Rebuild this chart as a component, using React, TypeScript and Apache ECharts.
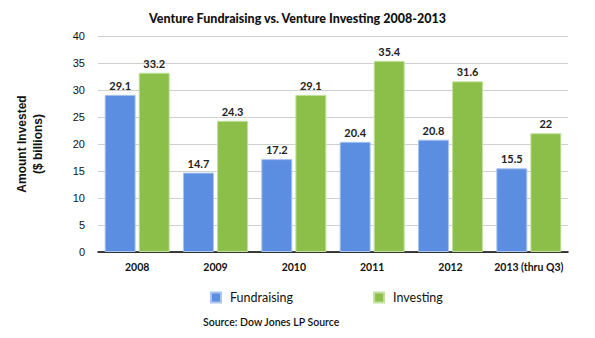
import React, { useEffect, useRef } from "react";
import * as echarts from "echarts";

const categories = ["2008", "2009", "2010", "2011", "2012", "2013 (thru Q3)"];
const fundraising = [29.1, 14.7, 17.2, 20.4, 20.8, 15.5];
const investing = [33.2, 24.3, 29.1, 35.4, 31.6, 22];
const yTicks = [0, 5, 10, 15, 20, 25, 30, 35, 40];

const FONT = "Lato";

export default function App() {
  const ref = useRef<HTMLDivElement>(null);
  useEffect(() => {
    if (!ref.current) return;
    const chart = echarts.init(ref.current, null, { renderer: "svg" });
    const label = {
      show: true,
      position: "top" as const,
      distance: 4,
      color: "#222",
      fontFamily: FONT,
      fontSize: 11,
      fontWeight: "bold" as const,
    };
    chart.setOption({
      animation: false,
      backgroundColor: "#fff",
      title: {
        text: "Venture Fundraising vs. Venture Investing 2008-2013",
        left: "center",
        top: 7,
        textStyle: { fontFamily: FONT, fontSize: 12.5, fontWeight: 900, color: "#111" },
      },
      grid: { left: 98, right: 27, top: 36, bottom: 86 },
      legend: {
        top: 286,
        left: 205,
        itemWidth: 10,
        itemHeight: 10,
        itemGap: 80,
        icon: "rect",
        textStyle: { fontFamily: FONT, fontSize: 12.5, color: "#111", padding: [0, 0, 0, 4] },
        data: ["Fundraising", "Investing"],
      },
      graphic: [
        {
          type: "text",
          left: 203,
          top: 316,
          style: { text: "Source: Dow Jones LP Source", fontFamily: FONT, fontSize: 10.5, fontWeight: 600, fill: "#111" },
        },
      ],
      xAxis: {
        type: "category",
        data: categories,
        axisLine: { lineStyle: { color: "#000", width: 1.5 } },
        axisTick: { show: false },
        axisLabel: { interval: 0, fontFamily: FONT, fontSize: 10.5, fontWeight: "bold", color: "#111", margin: 9 },
      },
      yAxis: {
        type: "value",
        min: yTicks[0],
        max: yTicks[yTicks.length - 1],
        interval: 5,
        name: "Amount Invested\n($ billions)",
        nameLocation: "middle",
        nameGap: 52,
        nameRotate: 90,
        nameTextStyle: { fontFamily: "Liberation Sans", fontSize: 12, fontWeight: "bold", color: "#111", lineHeight: 16 },
        axisLabel: { fontFamily: "Liberation Sans", fontSize: 11, color: "#111", margin: 13 },
        splitLine: { lineStyle: { color: "#d0d0d0" } },
        axisLine: { show: false },
        axisTick: { show: false },
      },
      series: [
        {
          name: "Fundraising",
          type: "bar",
          data: fundraising,
          barGap: "10%",
          barCategoryGap: "17%",
          itemStyle: { color: "#5b8de0", borderColor: "#a9c4ee", borderWidth: 1 },
          label,
        },
        {
          name: "Investing",
          type: "bar",
          data: investing,
          itemStyle: { color: "#8bbf4a", borderColor: "#c3e09d", borderWidth: 1 },
          label,
        },
      ],
    });
    return () => chart.dispose();
  }, []);
  return <div ref={ref} style={{ width: 595, height: 338, position: "absolute", left: 0, top: 0 }} />;
}
